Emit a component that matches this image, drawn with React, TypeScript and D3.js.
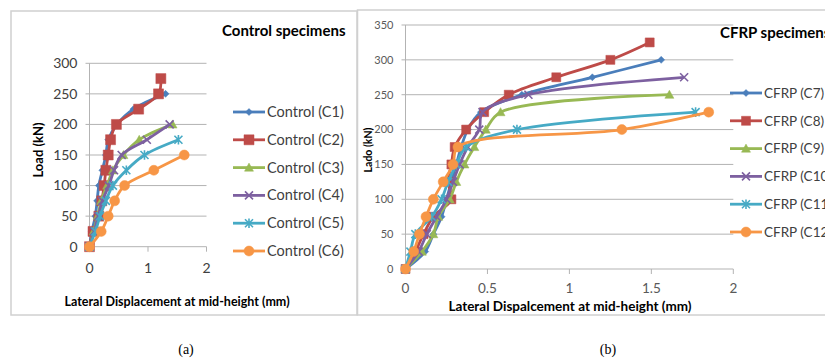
import React from 'react';
import * as d3 from 'd3';

// ---------- Data: panel (a) control specimens ----------
const controlNames = ['Control (C1)', 'Control (C2)', 'Control (C3)', 'Control (C4)', 'Control (C5)', 'Control (C6)'];
const c1Disp = [0, 0.04, 0.1, 0.13, 0.16, 0.22, 0.28, 0.32, 0.47, 0.75, 1.3];
const c1Load = [0, 25, 50, 75, 100, 125, 150, 175, 200, 225, 250];
const c2Disp = [0, 0.06, 0.16, 0.21, 0.25, 0.28, 0.32, 0.36, 0.46, 0.84, 1.18, 1.22];
const c2Load = [0, 25, 50, 75, 100, 125, 150, 175, 200, 225, 250, 275];
const c3Disp = [0, 0.07, 0.14, 0.2, 0.3, 0.4, 0.58, 0.85, 1.42];
const c3Load = [0, 25, 50, 75, 100, 125, 150, 175, 200];
const c4Disp = [0, 0.08, 0.15, 0.22, 0.33, 0.42, 0.55, 0.98, 1.37];
const c4Load = [0, 25, 50, 75, 100, 125, 150, 175, 200];
const c5Disp = [0, 0.1, 0.18, 0.28, 0.4, 0.63, 0.94, 1.52];
const c5Load = [0, 25, 50, 75, 100, 125, 150, 175];
const c6Disp = [0, 0.2, 0.32, 0.43, 0.6, 1.1, 1.62];
const c6Load = [0, 25, 50, 75, 100, 125, 150];

// ---------- Data: panel (b) CFRP specimens ----------
const cfrpNames = ['CFRP (C7)', 'CFRP (C8)', 'CFRP (C9)', 'CFRP (C10)', 'CFRP (C11)', 'CFRP (C12)'];
const c7Disp = [0, 0.12, 0.17, 0.22, 0.25, 0.28, 0.31, 0.34, 0.38, 0.46, 0.71, 1.14, 1.56];
const c7Load = [0, 25, 50, 75, 100, 125, 150, 175, 200, 225, 250, 275, 300];
const c8Disp = [0, 0.06, 0.11, 0.17, 0.28, 0.26, 0.28, 0.3, 0.37, 0.48, 0.63, 0.92, 1.25, 1.49];
const c8Load = [0, 25, 50, 75, 100, 125, 150, 175, 200, 225, 250, 275, 300, 325];
const c9Disp = [0, 0.1, 0.17, 0.2, 0.27, 0.31, 0.36, 0.42, 0.49, 0.58, 1.61];
const c9Load = [0, 25, 50, 75, 100, 125, 150, 175, 200, 225, 250];
const c10Disp = [0, 0.08, 0.13, 0.19, 0.25, 0.29, 0.33, 0.38, 0.45, 0.47, 0.75, 1.7];
const c10Load = [0, 25, 50, 75, 100, 125, 150, 175, 200, 225, 250, 275];
const c11Disp = [0, 0.03, 0.06, 0.16, 0.22, 0.26, 0.31, 0.37, 0.68, 1.77];
const c11Load = [0, 25, 50, 75, 100, 125, 150, 175, 200, 225];
const c12Disp = [0, 0.05, 0.085, 0.125, 0.17, 0.23, 0.29, 0.32, 1.32, 1.85];
const c12Load = [0, 25, 50, 75, 100, 125, 150, 175, 200, 225];

const xTicksA = [0, 1, 2];
const yTicksA = [0, 50, 100, 150, 200, 250, 300];
const xTicksB = [0, 0.5, 1, 1.5, 2];
const yTicksB = [0, 50, 100, 150, 200, 250, 300, 350];

const colors = ['#4a7ebb', '#be4b48', '#98b954', '#7d60a0', '#46aac5', '#f79646'];
const markers = ['diamond', 'square', 'triangle', 'x', 'star', 'circle'];

const FONT = 'Lato, "Open Sans", sans-serif';

function markerPath(type: string, r: number): string {
  switch (type) {
    case 'diamond':
      return `M0,${-r}L${r},0L0,${r}L${-r},0Z`;
    case 'square':
      return `M${-r},${-r}H${r}V${r}H${-r}Z`;
    case 'triangle':
      return `M0,${-r}L${r},${r * 0.8}L${-r},${r * 0.8}Z`;
    case 'x':
      return `M${-r},${-r}L${r},${r}M${-r},${r}L${r},${-r}`;
    case 'star':
      return `M${-r},${-r}L${r},${r}M${-r},${r}L${r},${-r}M0,${-r * 1.2}V${r * 1.2}`;
    default:
      return d3.symbol(d3.symbolCircle, Math.PI * r * r)() || '';
  }
}

function Marker({ type, color, r, x, y }: any) {
  const stroked = type === 'x' || type === 'star';
  return (
    <path
      d={markerPath(type, r)}
      transform={`translate(${x},${y})`}
      fill={stroked ? 'none' : color}
      stroke={color}
      strokeWidth={stroked ? 1.6 : 0.5}
    />
  );
}

type Series = { name: string; xs: number[]; ys: number[] };

function Panel({ series, x, y, xTicks, yTicks, rSizes, xFmt, yTickFont, yTickColor, xTickFont, xTickY, lw }: any) {
  const line = d3
    .line<[number, number]>()
    .x((d) => x(d[0]))
    .y((d) => y(d[1]))
    .curve(d3.curveCatmullRom.alpha(0.5));
  const [x0, x1] = x.range();
  const [y0, y1] = y.range();
  return (
    <g>
      {yTicks.map((t: number) => (
        <g key={'gy' + t}>
          <line x1={x0 - 4} x2={x1} y1={y(t)} y2={y(t)} stroke="#b3b3b3" strokeWidth={1} />
          <text x={x0 - 12} y={y(t)} dy="0.35em" textAnchor="end" fontSize={yTickFont} fill={yTickColor} fontFamily={FONT}>
            {t}
          </text>
        </g>
      ))}
      <line x1={x0} x2={x0} y1={y0} y2={y1} stroke="#b3b3b3" strokeWidth={1} />
      {xTicks.map((t: number) => (
        <g key={'gx' + t}>
          <line x1={x(t)} x2={x(t)} y1={y0} y2={y0 + 5} stroke="#b3b3b3" strokeWidth={1} />
          <text x={x(t)} y={xTickY} textAnchor="middle" fontSize={xTickFont} fill={yTickColor} fontFamily={FONT}>
            {xFmt(t)}
          </text>
        </g>
      ))}
      {series.map((s: Series, i: number) => {
        const pts = s.xs.map((v, k) => [v, s.ys[k]] as [number, number]);
        return (
          <g key={s.name}>
            <path d={line(pts) || ''} fill="none" stroke={colors[i]} strokeWidth={lw} strokeLinejoin="round" />
            {pts.map((p, k) => (
              <Marker key={k} type={markers[i]} color={colors[i]} r={rSizes[i]} x={x(p[0])} y={y(p[1])} />
            ))}
          </g>
        );
      })}
    </g>
  );
}

function Legend({ names, x, y0, step, fontSize, rSizes }: any) {
  return (
    <g>
      {names.map((n: string, i: number) => {
        const yy = y0 + i * step;
        return (
          <g key={n}>
            <line x1={x} x2={x + 32} y1={yy} y2={yy} stroke={colors[i]} strokeWidth={2.8} />
            <Marker type={markers[i]} color={colors[i]} r={rSizes[i]} x={x + 16} y={yy} />
            <text x={x + 34} y={yy} dy="0.35em" fontSize={fontSize} fill="#404040" fontFamily={FONT}>
              {n}
            </text>
          </g>
        );
      })}
    </g>
  );
}

export default function App() {
  const seriesA: Series[] = [
    { name: controlNames[0], xs: c1Disp, ys: c1Load },
    { name: controlNames[1], xs: c2Disp, ys: c2Load },
    { name: controlNames[2], xs: c3Disp, ys: c3Load },
    { name: controlNames[3], xs: c4Disp, ys: c4Load },
    { name: controlNames[4], xs: c5Disp, ys: c5Load },
    { name: controlNames[5], xs: c6Disp, ys: c6Load },
  ];
  const seriesB: Series[] = [
    { name: cfrpNames[0], xs: c7Disp, ys: c7Load },
    { name: cfrpNames[1], xs: c8Disp, ys: c8Load },
    { name: cfrpNames[2], xs: c9Disp, ys: c9Load },
    { name: cfrpNames[3], xs: c10Disp, ys: c10Load },
    { name: cfrpNames[4], xs: c11Disp, ys: c11Load },
    { name: cfrpNames[5], xs: c12Disp, ys: c12Load },
  ];
  const xA = d3.scaleLinear().domain([0, 2]).range([89.5, 206.5]);
  const yA = d3.scaleLinear().domain([0, 300]).range([246.7, 63.3]);
  const xB = d3.scaleLinear().domain([0, 2]).range([405.5, 733.3]);
  const yB = d3.scaleLinear().domain([0, 350]).range([269, 25]);
  const rA = [3.5, 5, 4.5, 4, 4, 5];
  const rB = [3.5, 4.5, 4.5, 4, 4, 5];

  return (
    <svg width={825} height={358} style={{ position: 'absolute', left: 0, top: 0 }}>
      <rect x={0} y={0} width={825} height={358} fill="#ffffff" />
      {/* panel borders */}
      <rect x={11} y={11} width={346} height={304} fill="none" stroke="#d0d0d0" strokeWidth={1.5} />
      <rect x={357.5} y={10} width={480} height={305} fill="none" stroke="#d0d0d0" strokeWidth={1.5} />

      {/* panel (a) */}
      <Panel
        series={seriesA}
        x={xA}
        y={yA}
        xTicks={xTicksA}
        yTicks={yTicksA}
        rSizes={rA}
        xFmt={(t: number) => String(t)}
        yTickFont={14}
        yTickColor="#404040"
        xTickFont={14}
        xTickY={273}
        lw={2.8}
      />
      <text x={222} y={36} fontSize={15} fontWeight="bold" fill="#000" fontFamily={FONT}>
        Control specimens
      </text>
      <text transform="translate(43,150) rotate(-90)" textAnchor="middle" fontSize={13} fontWeight="bold" fill="#000" fontFamily={FONT}>
        Load (kN)
      </text>
      <text x={177} y={306} textAnchor="middle" fontSize={12.5} fontWeight="bold" fill="#000" fontFamily={FONT}>
        Lateral Displacement at mid-height (mm)
      </text>
      <Legend names={controlNames} x={233} y0={112} step={27.8} fontSize={14.5} rSizes={rA} />

      {/* panel (b) */}
      <Panel
        series={seriesB}
        x={xB}
        y={yB}
        xTicks={xTicksB}
        yTicks={yTicksB}
        rSizes={rB}
        xFmt={(t: number) => String(t)}
        yTickFont={11}
        yTickColor="#595959"
        xTickFont={13.5}
        xTickY={293}
        lw={2.8}
      />
      <text x={720} y={38} fontSize={15} fontWeight="bold" fill="#000" fontFamily={FONT}>
        CFRP specimens
      </text>
      <text transform="translate(372,150) rotate(-90)" textAnchor="middle" fontSize={10.5} fontWeight="bold" fill="#000" fontFamily={FONT}>
        Lado (kN)
      </text>
      <text x={570} y={310.5} textAnchor="middle" fontSize={13.5} fontWeight="bold" fill="#000" fontFamily={FONT}>
        Lateral Dispalcement at mid-height (mm)
      </text>
      <Legend names={cfrpNames} x={730} y0={93} step={27.8} fontSize={13.5} rSizes={rB} />

      {/* captions */}
      <text x={186} y={354} textAnchor="middle" fontSize={14} fill="#000" fontFamily="'Liberation Serif', serif">
        (a)
      </text>
      <text x={608} y={354} textAnchor="middle" fontSize={14} fill="#000" fontFamily="'Liberation Serif', serif">
        (b)
      </text>
    </svg>
  );
}
